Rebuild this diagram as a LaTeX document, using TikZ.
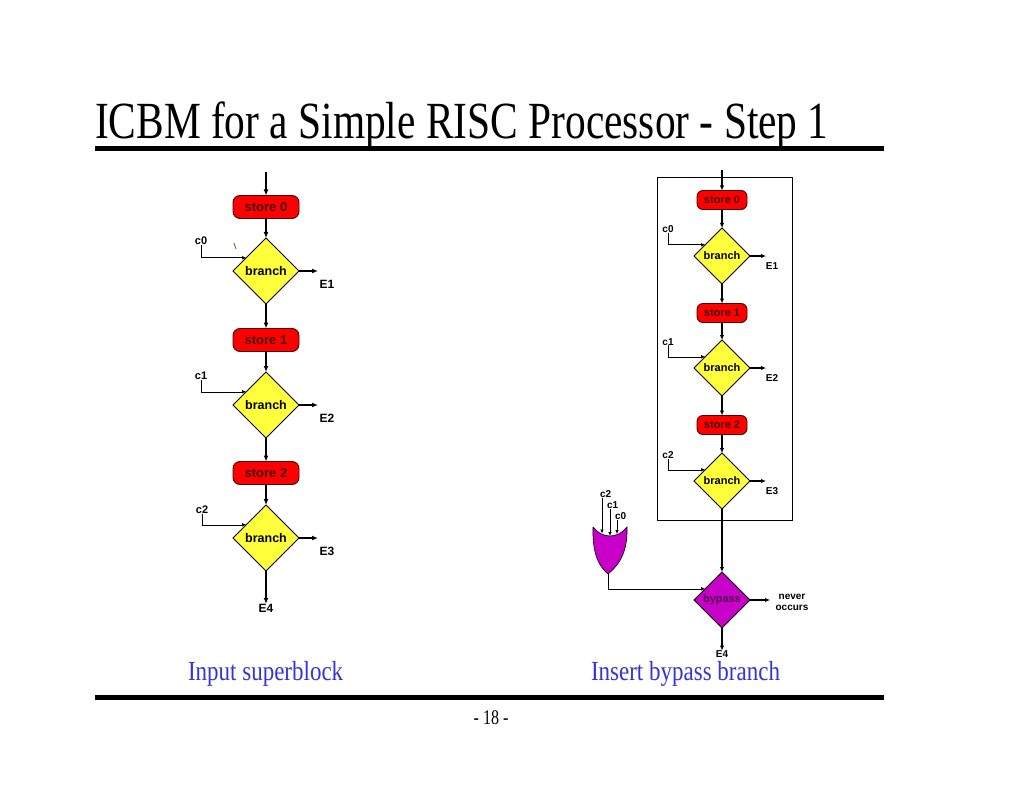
\documentclass[tikz,border=0pt]{standalone}
\usepackage{fontspec}
\setmainfont{Liberation Serif}
\newfontfamily\helv{Liberation Sans}
\usetikzlibrary{shapes.geometric,arrows.meta,calc}
\definecolor{storered}{RGB}{255,0,0}
\definecolor{storetxt}{RGB}{70,0,0}
\definecolor{branchyellow}{RGB}{255,255,60}
\definecolor{bypasspurple}{RGB}{200,0,200}
\definecolor{bypasstxt}{RGB}{80,0,80}
\definecolor{captionblue}{RGB}{51,51,215}
\begin{document}
\begin{tikzpicture}[x=1pt,y=-1pt,inner sep=0pt,outer sep=0pt,
>={Latex[length=6pt,width=5pt]},
flow/.style={line width=1.3pt},
flowR/.style={line width=1.1pt,>={Latex[length=5pt,width=4.5pt]}},
tap/.style={line width=0.6pt,>={Latex[length=4pt,width=3.5pt]}},
storeL/.style={draw=black!70!red,fill=storered,rounded corners=7pt,line width=0.9pt,minimum width=66pt,minimum height=23pt,text=storetxt,font=\helv\bfseries\fontsize{13}{13}\selectfont},
storeR/.style={storeL,rounded corners=6pt,minimum width=50pt,minimum height=19pt,font=\helv\bfseries\fontsize{11}{11}\selectfont},
branchL/.style={diamond,aspect=1,draw,fill=branchyellow,line width=0.8pt,minimum width=66pt,minimum height=66pt,font=\helv\bfseries\fontsize{12.5}{12.5}\selectfont},
branchR/.style={branchL,minimum width=56pt,minimum height=56pt,font=\helv\bfseries\fontsize{11}{11}\selectfont},
bypass/.style={branchR,fill=bypasspurple,text=bypasstxt},
lblL/.style={font=\helv\bfseries\fontsize{12}{12}\selectfont},
lblR/.style={font=\helv\bfseries\fontsize{10}{11}\selectfont},
caption/.style={anchor=base west,text=captionblue,font=\fontsize{23}{23}\selectfont}]
\useasboundingbox (0,0) rectangle (1024,791);
\node[anchor=base west,font=\fontsize{41.4}{41.4}\selectfont] (title) at (95,139) {\scalebox{1}[1.26]{ICBM for a Simple RISC Processor - Step 1}};
\draw[line width=5pt] (95,148.5) -- (884,148.5);
\draw[line width=5pt] (95,697) -- (884,697);
\node[anchor=base,font=\fontsize{16}{16}\selectfont] (page) at (491,724) {\scalebox{1}[1.3]{- 18 -}};
\coordinate (inL) at (266,172);
\node[storeL] (s0) at (266,207) {store 0};
\node[branchL] (b0) at (266,271) {branch};
\node[storeL] (s1) at (266,340) {store 1};
\node[branchL] (b1) at (266,405) {branch};
\node[storeL] (s2) at (266,473) {store 2};
\node[branchL] (b2) at (266,538) {branch};
\node[lblL] (e4) at (266,608) {E4};
\node[lblL] (e1) at (327,284) {E1};
\node[lblL] (e2) at (327,418) {E2};
\node[lblL] (e3) at (327,551) {E3};
\coordinate (e1end) at (318,271);
\coordinate (e2end) at (318,405);
\coordinate (e3end) at (318,538);
\node[lblR,font=\helv\bfseries\fontsize{11}{11}\selectfont] (c0) at (201,241) {c0};
\node[lblR,font=\helv\bfseries\fontsize{11}{11}\selectfont] (c1) at (201,376) {c1};
\node[lblR,font=\helv\bfseries\fontsize{11}{11}\selectfont] (c2) at (202,510) {c2};
\draw[flow,->] (inL) -- (s0);
\draw[flow,->] (s0) -- (b0);
\draw[flow,->] (b0) -- (s1);
\draw[flow,->] (s1) -- (b1);
\draw[flow,->] (b1) -- (s2);
\draw[flow,->] (s2) -- (b2);
\draw[flow,->] (b2) -- (e4);
\draw[flow,->] (b0.east) -- (e1end);
\draw[flow,->] (b1.east) -- (e2end);
\draw[flow,->] (b2.east) -- (e3end);
\draw[tap,->] (c0.south) |- ($(b0.west)!0.4!(b0.north)$);
\draw[tap,->] (c1.south) |- ($(b1.west)!0.4!(b1.north)$);
\draw[tap,->] (c2.south) |- ($(b2.west)!0.4!(b2.north)$);
\draw[olive!70!black,line width=0.8pt] (234,243) -- (236,249);
\node[caption] (capL) at (188,680) {\scalebox{1}[1.2]{Input superblock}};
\draw[line width=0.7pt] (657,177) rectangle (792,520);
\coordinate (inR) at (722,170);
\node[storeR] (r0) at (722,200) {store 0};
\node[branchR] (q0) at (722,256) {branch};
\node[storeR] (r1) at (722,313) {store 1};
\node[branchR] (q1) at (722,368) {branch};
\node[storeR] (r2) at (722,425) {store 2};
\node[branchR] (q2) at (722,481) {branch};
\node[bypass] (bp) at (722,600) {bypass};
\node[lblR] (f4) at (722,654) {E4};
\node[lblR] (f1) at (772,266) {E1};
\node[lblR] (f2) at (772,378) {E2};
\node[lblR] (f3) at (772,491) {E3};
\node[lblR,align=center] (nev) at (792,602) {never\\occurs};
\coordinate (f1end) at (766,256);
\coordinate (f2end) at (766,368);
\coordinate (f3end) at (766,481);
\coordinate (nevend) at (770,600);
\node[lblR] (d0) at (668,229) {c0};
\node[lblR] (d1) at (668,342) {c1};
\node[lblR] (d2) at (668,455) {c2};
\draw[flowR,->] (inR) -- (r0);
\draw[flowR,->] (r0) -- (q0);
\draw[flowR,->] (q0) -- (r1);
\draw[flowR,->] (r1) -- (q1);
\draw[flowR,->] (q1) -- (r2);
\draw[flowR,->] (r2) -- (q2);
\draw[flowR,->] (q2) -- (bp);
\draw[flowR,->] (bp) -- (f4);
\draw[flowR,->] (q0.east) -- (f1end);
\draw[flowR,->] (q1.east) -- (f2end);
\draw[flowR,->] (q2.east) -- (f3end);
\draw[flowR,->] (bp.east) -- (nevend);
\draw[tap,->] (d0.south) |- ($(q0.west)!0.4!(q0.north)$);
\draw[tap,->] (d1.south) |- ($(q1.west)!0.4!(q1.north)$);
\draw[tap,->] (d2.south) |- ($(q2.west)!0.4!(q2.north)$);
\draw[line width=0.6pt,fill=bypasspurple] (593,527) .. controls (592,557) and (601,568) .. (608,574) .. controls (615,568) and (628,557) .. (627,527) .. controls (618,539) and (602,539) .. (593,527);
\coordinate (g2) at (602,533.5);
\coordinate (g1) at (610,536);
\coordinate (g0) at (617,534);
\coordinate (gout) at (608,574);
\node[lblR,anchor=south west] (ic2) at (600,498) {c2};
\node[lblR,anchor=south west] (ic1) at (607,509) {c1};
\node[lblR,anchor=south west] (ic0) at (615,520) {c0};
\draw[tap,->] (ic2.south west -| g2) -- (g2);
\draw[tap,->] (ic1.south west -| g1) -- (g1);
\draw[tap,->] (ic0.south west -| g0) -- (g0);
\draw[tap,->] (gout) |- ($(bp.west)!0.4!(bp.north)$);
\node[caption] (capR) at (591,680) {\scalebox{1}[1.2]{Insert bypass branch}};
\end{tikzpicture}
\end{document}
